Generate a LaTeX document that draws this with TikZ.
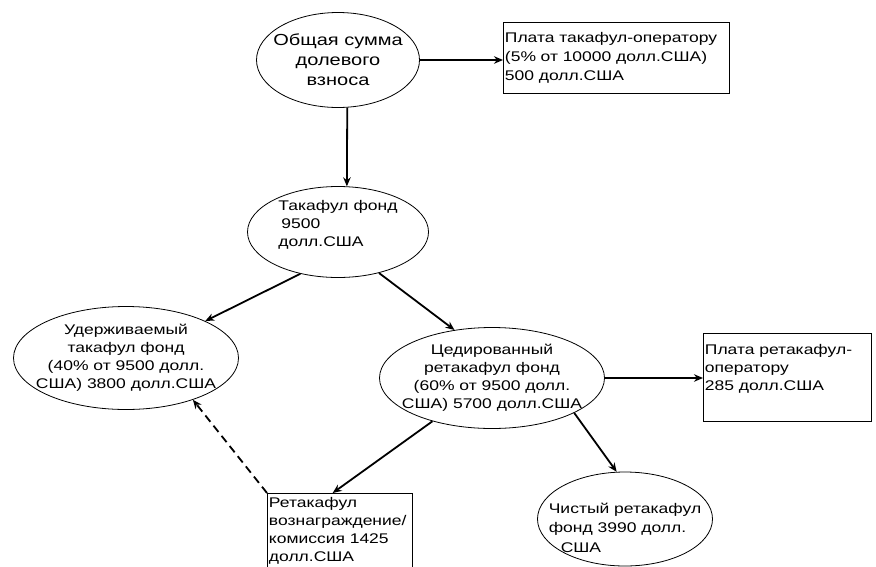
\documentclass[tikz,border=0pt]{standalone}
\usepackage{fontspec}
\setmainfont[FakeStretch=1.25]{Liberation Sans}
\usetikzlibrary{arrows.meta, shapes.geometric, calc}

\begin{document}
\begin{tikzpicture}[x=1pt, y=-1pt,
  fund/.style={draw, ellipse, line width=0.8pt, inner sep=-25pt, align=center,
               font=\fontsize{14}{18}\selectfont},
  feebox/.style={draw, rectangle, line width=0.9pt, anchor=north west, align=left,
                 inner xsep=1.5pt, font=\fontsize{14}{18}\selectfont},
  flow/.style={-{Stealth[length=9pt, width=7.5pt]}, line width=1.8pt}
]
\useasboundingbox (0,0) rectangle (876,566);

% funds
\node[fund, minimum width=163pt, minimum height=95pt,
      font=\fontsize{16}{20}\selectfont] (total) at (338,60) {Общая сумма\\долевого\\взноса};
\node[fund, minimum width=181pt, minimum height=91pt, align=left] (takaful) at (338,232)
  {Такафул фонд\\\hspace{3pt}9500\\долл.США\rule[-17pt]{0pt}{1pt}};
\node[fund, minimum width=225pt, minimum height=103pt] (retained) at (126,358)
  {Удерживаемый\\такафул фонд\\(40\% от 9500 долл.\\США) 3800 долл.США};
\node[fund, minimum width=225pt, minimum height=101pt] (ceded) at (492,378)
  {Цедированный\\ретакафул фонд\\(60\% от 9500 долл.\\США) 5700 долл.США};
\node[fund, minimum width=175pt, minimum height=94pt, align=left,
      font=\fontsize{14}{19.5}\selectfont] (net) at (625,519)
  {\rule{0pt}{28pt}Чистый ретакафул\\фонд 3990 долл.\\\hspace{12pt}США};

% fees
\node[feebox, text width=223pt, inner ysep=10pt, font=\fontsize{14}{19}\selectfont] (feeone) at (503,22)
  {Плата такафул-оператору\\(5\% от 10000 долл.США)\\500 долл.США};
\node[feebox, text width=165pt, inner ysep=10.5pt] (feetwo) at (703,333)
  {Плата ретакафул-\\оператору\\285 долл.США\rule[-21pt]{0pt}{1pt}};
\node[feebox, text width=142pt, inner ysep=4pt] (commission) at (267,493)
  {Ретакафул\\вознаграждение/\\комиссия 1425\\долл.США\rule[-10pt]{0pt}{1pt}};

% flows
\draw[flow] (total.east) -- (total.east -| feeone.west);
\draw[flow] (total.281) -- (takaful.79);
\draw[flow] (takaful.228) -- (retained.25);
\draw[flow] (takaful.315) -- (ceded.128);
\draw[flow] (ceded.east) -- (ceded.east -| feetwo.west);
\draw[flow] (ceded.337) -- (net.100);
\draw[flow] (ceded.216) -- ($(commission.north west)!0.45!(commission.north east)$);
\draw[flow, dashed, dash pattern=on 8pt off 5pt] (commission.north west) -- (retained.328);
\end{tikzpicture}
\end{document}
